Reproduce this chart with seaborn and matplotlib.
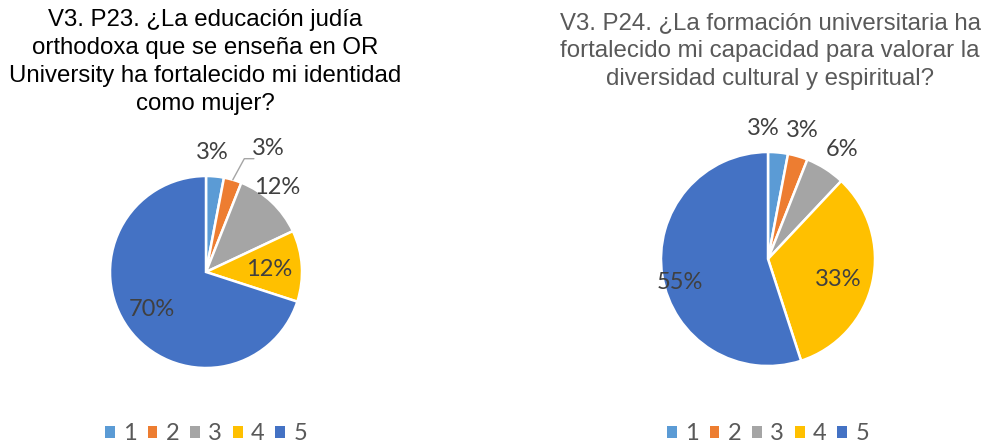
import numpy as np
import seaborn as sns
import matplotlib.pyplot as plt
from matplotlib.patches import Patch

# survey answers (scale 1-5), share of respondents in %
categories = ["1", "2", "3", "4", "5"]
p23_values = [3, 3, 12, 12, 70]
p24_values = [3, 3, 6, 33, 55]
colors = ["#5B9BD5", "#ED7D31", "#A5A5A5", "#FFC000", "#4472C4"]

p23_title = "V3. P23. ¿La educación judía\northodoxa que se enseña en OR\nUniversity ha fortalecido mi identidad\ncomo mujer?"
p24_title = "V3. P24. ¿La formación universitaria ha\nfortalecido mi capacidad para valorar la\ndiversidad cultural y espiritual?"

# label placement: (angle in degrees, radius relative to pie)
p23_label_pos = [(87, 1.25), (63, 1.44), (50, 1.15), (2, 0.66), (-145, 0.69)]
p24_label_pos = [(92, 1.22), (75, 1.24), (56, 1.24), (-16, 0.68), (-165, 0.85)]

sns.set_theme(style="white")
plt.rcParams['font.family'] = ['Liberation Sans', 'DejaVu Sans']

W, H = 982, 446
fig = plt.figure(figsize=(W / 100, H / 100), dpi=100)


def pie_axes(cx, cy, half=170):
    # axes square around the pie centre, pixel based
    ax = fig.add_axes([(cx - half) / W, (H - cy - half) / H, 2 * half / W, 2 * half / H])
    ax.axis('off')
    return ax


def draw_pie(ax, values, label_pos, r, half=170):
    wedges, _ = ax.pie(values, colors=colors, startangle=90, counterclock=False,
                       wedgeprops=dict(edgecolor='white', linewidth=1.8))
    lim = half / r
    ax.set_xlim(-lim, lim)
    ax.set_ylim(-lim, lim)
    ax.set_aspect('equal')
    for v, (ang, rad) in zip(values, label_pos):
        a = np.deg2rad(ang)
        ax.text(rad * np.cos(a), rad * np.sin(a), f"{v}%", ha='center', va='center',
                fontsize=17, color='#404040', family=['Lato', 'DejaVu Sans'])
    return wedges


def draw_legend(cx):
    handles = [Patch(facecolor=c, edgecolor='none') for c in colors]
    fig.legend(handles, categories, loc='center', bbox_to_anchor=(cx / W, 1 - 434 / H),
               ncol=5, frameon=False, handlelength=0.42, handleheight=0.42,
               handletextpad=0.35, columnspacing=0.45, labelcolor='#595959',
               prop=dict(family=['Lato', 'DejaVu Sans'], size=17), borderpad=0.1)


# left pie
ax1 = pie_axes(206, 272)
w1 = draw_pie(ax1, p23_values, p23_label_pos, 96)
# leader line for the second small slice
mid = np.deg2rad(90 - 360 * (p23_values[0] + p23_values[1] / 2) / 100)
x0, y0 = np.cos(mid), np.sin(mid)
ax1.plot([x0, x0 + 0.12, x0 + 0.22], [y0, y0 + 0.22, y0 + 0.22], color='#A5A5A5', lw=1)

# right pie
ax2 = pie_axes(768, 259)
w2 = draw_pie(ax2, p24_values, p24_label_pos, 107)

fig.text(205 / W, 1 - 9 / H, p23_title, ha='center', va='top', fontsize=17.3,
         color='black', linespacing=1.36)
fig.text(770 / W, 1 - 12 / H, p24_title, ha='center', va='top', fontsize=17.3,
         color='#595959', linespacing=1.36)

draw_legend(206)
draw_legend(768)

fig.savefig("out.png", dpi=100)
